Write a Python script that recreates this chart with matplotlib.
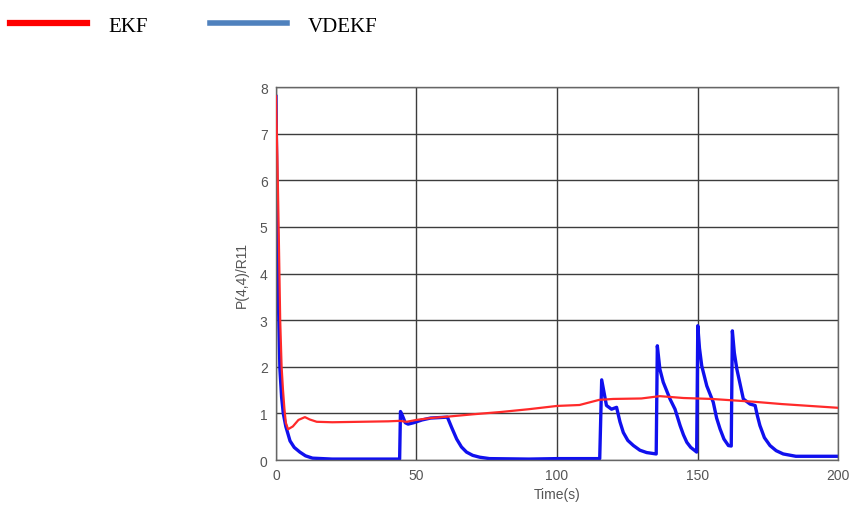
import matplotlib
matplotlib.use("Agg")
from matplotlib import pyplot as plt

t_ekf = [0, 0.5, 1, 1.5, 2, 2.5, 3, 3.5, 4.3, 6, 8, 10.3, 12, 14.5, 20, 30, 40, 44,
         46.5, 50, 55, 61, 70, 80, 90, 100, 108, 115, 120, 130, 136.6, 145, 155,
         170, 180, 190, 200]
ekf = [7.8, 6.5, 4.8, 3.0, 2.0, 1.5, 1.1, 0.8, 0.66, 0.72, 0.86, 0.92, 0.87, 0.82,
       0.81, 0.82, 0.83, 0.84, 0.82, 0.86, 0.9, 0.93, 0.98, 1.03, 1.09, 1.16, 1.18,
       1.29, 1.31, 1.32, 1.37, 1.33, 1.31, 1.25, 1.2, 1.16, 1.12]

t_vdekf = [0, 0.3, 0.8, 1.4, 2.0, 2.6, 3.5, 5, 6.5, 8.5, 10.5, 13, 20, 30, 44.0,
           44.3, 45.0, 46, 47, 49, 52, 55, 61, 62.5, 64.3, 66, 67.8, 70, 72.5, 76,
           90, 100, 115.2, 115.9, 117.6, 119.4, 121.2, 122.4, 123.6, 125.2, 127.2,
           129.5, 131.9, 135.3, 135.7, 136.6, 137.8, 140.2, 142, 143.8, 145, 146.2,
           147.6, 149.1, 149.7, 150.1, 150.7, 151.5, 153.3, 155.6, 156.8, 158, 159.4,
           161, 162, 162.4, 163.1, 164, 166.3, 168.7, 170.5, 171.3, 172.2, 173.8,
           175.8, 178, 180.5, 185, 200]
vdekf = [7.8, 6.0, 3.6, 1.95, 1.35, 1.0, 0.72, 0.41, 0.27, 0.17, 0.09, 0.04, 0.02,
         0.02, 0.02, 1.04, 0.95, 0.8, 0.77, 0.8, 0.86, 0.9, 0.92, 0.7, 0.45, 0.28,
         0.17, 0.1, 0.06, 0.03, 0.02, 0.03, 0.03, 1.72, 1.17, 1.09, 1.13, 0.82, 0.59,
         0.42, 0.31, 0.21, 0.16, 0.13, 2.45, 1.95, 1.67, 1.31, 1.09, 0.74, 0.54, 0.38,
         0.27, 0.2, 0.17, 2.88, 2.4, 2.02, 1.59, 1.24, 0.9, 0.67, 0.45, 0.31, 0.3,
         2.77, 2.3, 1.95, 1.31, 1.2, 1.17, 0.95, 0.74, 0.48, 0.31, 0.2, 0.13, 0.08,
         0.08]

xticks = [0, 50, 100, 150, 200]
yticks = [0, 1, 2, 3, 4, 5, 6, 7, 8]

fig = plt.figure(figsize=(8.56, 5.06), dpi=100)
ax = fig.add_axes([0.3224, 0.0889, 0.979 - 0.3224, 0.826 - 0.0889])

ax.plot(t_ekf, ekf, color="#ff2a2a", lw=1.6, zorder=3)
ax.plot(t_vdekf, vdekf, color="#1010ee", lw=2.4, zorder=2)

ax.set_xlim(0, 200)
ax.set_ylim(0, 8)
ax.set_xticks(xticks)
ax.set_yticks(yticks)
ax.grid(True, color="#3c3c3c", lw=1.0)
ax.set_axisbelow(True)
ax.tick_params(length=0, pad=6, labelsize=10, labelcolor="#555555")
for lab in ax.get_xticklabels() + ax.get_yticklabels():
    lab.set_family("Liberation Sans")
for s in ax.spines.values():
    s.set_color("#666666")
    s.set_linewidth(1.0)

ax.set_xlabel("Time(s)", fontsize=10, color="#555555", family="Liberation Sans", labelpad=3)
ax.set_ylabel("P(4,4)/R11", fontsize=10, color="#555555", family="Liberation Sans", labelpad=8)

h1 = plt.Line2D([], [], color="#ff0000", lw=4.5)
h2 = plt.Line2D([], [], color="#4f81bd", lw=4.0)
fig.legend([h1, h2], ["EKF", "VDEKF"], loc="upper left", bbox_to_anchor=(-0.005, 0.995),
           ncol=2, frameon=False, handlelength=3.7, handletextpad=1.0,
           columnspacing=3.0, borderaxespad=0.3,
           prop={"family": "Liberation Serif", "size": 15})

fig.savefig("out.png", dpi=100)
